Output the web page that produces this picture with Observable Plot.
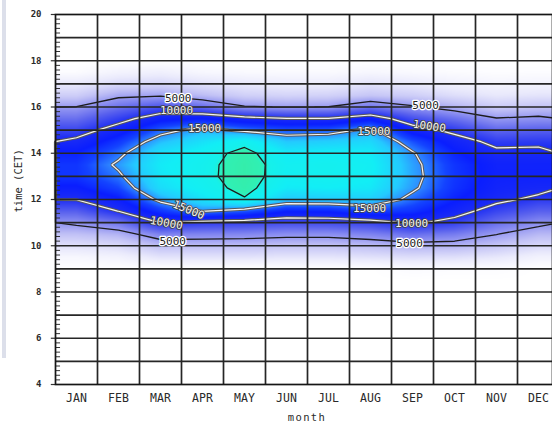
<!DOCTYPE html>
<html><head><meta charset="utf-8">
<script src="https://cdn.jsdelivr.net/npm/d3@7"></script>
<script src="https://cdn.jsdelivr.net/npm/@observablehq/plot@0.6"></script>
<style>
html,body{margin:0;padding:0;background:#fff;overflow:hidden}
#wrap{position:relative;width:552px;height:426px}
#chart{position:absolute;left:0;top:0}
#strip{position:absolute;left:2px;top:0;width:4px;height:358px;background:#dcdfea;z-index:2}
#xtitle{position:absolute;left:257px;width:100px;top:411px;text-align:center;font:10.5px "DejaVu Sans Mono";letter-spacing:1.4px;color:#2a2a2a;z-index:2}
</style></head><body><div id="wrap"><div id="chart"></div><div id="strip"></div><div id="xtitle"></div></div>
<script>
// ---- data ----
const months = ["JAN","FEB","MAR","APR","MAY","JUN","JUL","AUG","SEP","OCT","NOV","DEC"];
// sample hours (CET); outside this band the field is white (0)
const hours = [8.5,9,9.5,10,10.5,11,11.5,12,12.5,13,13.5,14,14.5,15,15.5,16,16.5,17,17.5,18,18.5];
const jan = [0,0,550,1950,3550,5450,7700,10050,11750,12900,12900,12200,10600,8850,6900,5050,2900,1500,250,0,0];
const feb = [0,0,860,2300,4100,6670,10050,11750,13500,14600,15400,14400,13000,11100,9100,6800,4550,2300,860,0,0];
const mar = [0,0,1790,3650,6150,10100,12940,15580,17500,18100,18300,17800,16150,14170,11390,8210,4770,2500,1110,0,0];
const apr = [0,0,1790,3650,6000,9330,15100,17800,19000,19400,19350,19000,17750,15830,12000,7000,3750,1940,560,0,0];
const may = [0,0,1800,3600,5900,9000,14000,19800,20700,21000,21000,20700,19300,14500,10800,5200,2800,1500,400,0,0];
const jun = [0,0,1700,3400,5600,8500,12200,16500,18300,18900,19000,18300,16500,13800,10100,4900,2600,1300,350,0,0];
const jul = [0,0,1700,3400,5600,8600,12300,16700,18500,19200,19300,18600,16800,14000,10100,5050,2700,1300,350,0,0];
const aug = [0,0,1900,3700,6100,9000,13500,16800,18200,18700,18800,18400,17300,15600,11500,6600,3300,1900,600,0,0];
const sep = [0,300,2100,4200,7000,10400,12800,14300,15400,15700,15600,15200,13800,11200,8400,5300,2900,1500,400,0,0];
const oct = [0,200,2000,4100,6400,9200,11000,12200,12800,13000,12900,12300,11200,9300,6800,4100,2100,1000,250,0,0];
const nov = [0,200,1600,3300,5050,7000,8900,10600,11200,11500,11400,10600,9300,7300,5100,3000,1600,700,150,0,0];
const dec = [0,0,900,2400,3900,5600,7600,9400,10800,11500,11400,10700,9400,7600,5400,3400,1800,800,200,0,0];
const monthly = [jan,feb,mar,apr,may,jun,jul,aug,sep,oct,nov,dec];

const yTickLabels = [4,6,8,10,12,14,16,18,20];
const lineLevels = [5000, 20000];
const haloLevels = [10000, 15000];
const xTitle = "month";
const yTitle = "time (CET)";

// contour labels
const labelText  = ["5000","10000","15000","15000","10000","5000","5000","10000","15000","15000","10000","5000"];
const labelMonth = [2.92, 2.88, 3.55, 3.17, 2.64, 2.79, 8.81, 8.9, 7.58, 7.48, 8.48, 8.43];
const labelHour  = [16.38, 15.85, 15.07, 11.55, 10.98, 10.2, 16.08, 15.16, 14.95, 11.62, 10.96, 10.12];
const labelAngle = [0, 0, 0, 22, 10, 0, 0, 8, 0, 0, 0, 0];

// colour ramp
const colorStops = [0, 1500, 3500, 5000, 7500, 10000, 12000, 13500, 15000, 16500, 18500, 19800, 20200, 22000];
const colorRange = ["#ffffff","#eaeafc","#c2c2f6","#9a9cf2","#5a62ee","#1e2ef4","#0a1eff","#1444ff","#2f8aff","#24caff","#12eef6","#16f0ea","#30f0b4","#3aeaa0"];

// ---- build ----
const nH = hours.length, nM = months.length;
const grid = [];
for (let j = 0; j < nH; ++j) for (let i = 0; i < nM; ++i) grid.push(monthly[i][j]);

function valueAt(x, y) {
  const fy = (y - hours[0]) / (hours[1] - hours[0]);
  if (fy < 0 || fy > nH - 1) return 0;
  const fx = Math.max(0, Math.min(nM - 1, x - 0.5));
  const i = Math.min(nM - 2, Math.floor(fx)), j = Math.min(nH - 2, Math.floor(fy));
  const tx = fx - i, ty = fy - j;
  const g = (a, b) => monthly[a][b];
  return (1-tx)*(1-ty)*g(i,j) + tx*(1-ty)*g(i+1,j) + (1-tx)*ty*g(i,j+1) + tx*ty*g(i+1,j+1);
}

const dy = (hours[1] - hours[0]) / 2;
const gridOpts = {width: nM, height: nH, x1: 0, x2: 12, y1: hours[0] - dy, y2: hours[nH-1] + dy, value: d => d, fill: "none"};

const labels = labelText.map((t, k) => ({t, m: labelMonth[k], h: labelHour[k], a: labelAngle[k], dark: t === "5000"}));
const minorTicks = d3.range(4, 20.0001, 0.2);
const font = "DejaVu Sans Mono";
const ink = "#2a2a2a";

const chart = Plot.plot({
  width: 552, height: 426,
  marginTop: 14, marginBottom: 42, marginLeft: 55, marginRight: 0,
  x: {domain: [0, 12], range: [55, 559], axis: null},
  y: {domain: [4, 20], range: [384, 14], axis: null},
  color: {type: "linear", domain: colorStops, range: colorRange, clamp: true},
  style: {fontFamily: font, background: "white", color: ink},
  marks: [
    Plot.raster({x1: 0, x2: 12, y1: 4, y2: 20, width: 504, height: 370, fill: (x, y) => valueAt(x, y)}),
    Plot.contour(grid, {...gridOpts, thresholds: haloLevels, stroke: "#5a5a5a", strokeWidth: 3.2}),
    Plot.contour(grid, {...gridOpts, thresholds: haloLevels, stroke: "#f4f4f4", strokeWidth: 1.2}),
    Plot.contour(grid, {...gridOpts, thresholds: lineLevels, stroke: "#1c1c1c", strokeWidth: 1.3}),
    Plot.ruleX(d3.range(1, 12), {stroke: "#262626", strokeWidth: 1.7}),
    Plot.ruleY(d3.range(5, 20), {stroke: "#262626", strokeWidth: 1.7}),
    Plot.ruleY(minorTicks, {y: d => d, x1: 0, x2: 0.12, stroke: "#333", strokeWidth: 1}),
    Plot.ruleY(yTickLabels, {y: d => d, x1: -0.1, x2: 0, stroke: "#333", strokeWidth: 1.2}),
    Plot.frame({stroke: "#161616", strokeWidth: 1.7}),
    Plot.text(labels.filter(d => d.dark), {x: "m", y: "h", text: "t", rotate: "a", fontSize: 11, fill: "#222", stroke: "white", strokeWidth: 2.5, fontFamily: font}),
    Plot.text(labels.filter(d => !d.dark), {x: "m", y: "h", text: "t", rotate: "a", fontSize: 11, fill: "#f2f2f2", stroke: "#444", strokeWidth: 1.6, fontFamily: font}),
    Plot.text(yTickLabels, {x: 0, y: d => d, text: d => String(d), dx: -14, textAnchor: "end", fontSize: 9, fontWeight: "bold", fill: ink}),
    Plot.text(months, {x: (d, i) => i + 0.5, y: 4, text: d => d, dy: 14, fontSize: 11.5, fill: ink, letterSpacing: 0.8}),
    Plot.text([yTitle], {frameAnchor: "left", text: d => d, dx: -37, dy: 13, rotate: -90, fontSize: 10.5, fill: ink, letterSpacing: 1.6})
  ]
});
document.getElementById("chart").appendChild(chart);
document.getElementById("xtitle").textContent = xTitle;
</script></body></html>
